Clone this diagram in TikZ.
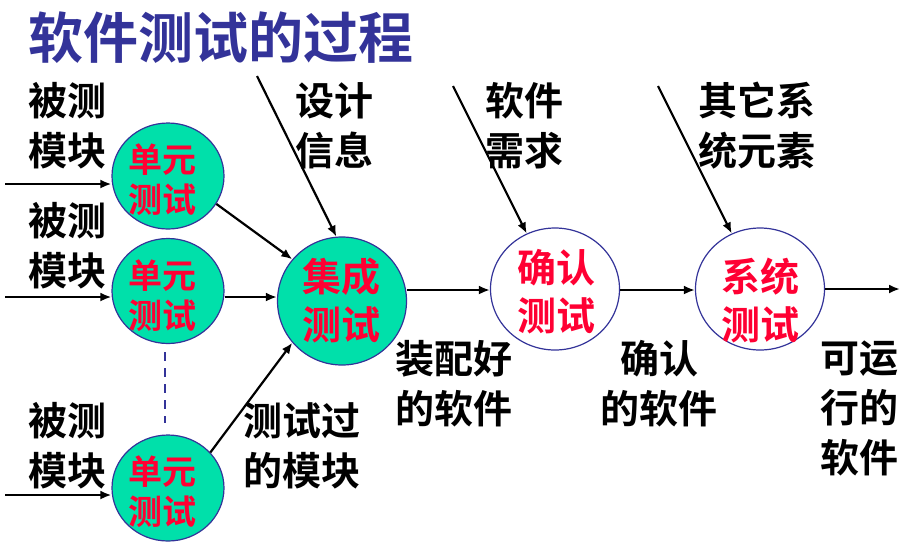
\documentclass[tikz,border=0pt]{standalone}
\usepackage{fontspec}
\setmainfont{Noto Sans CJK SC}[BoldFont={Noto Sans CJK SC Bold}]
\usetikzlibrary{arrows.meta,shapes.geometric}
\definecolor{titleblue}{HTML}{333399}
\definecolor{tealfill}{HTML}{00E0AA}
\definecolor{redtxt}{HTML}{FF0033}
\tikzset{
  oval/.style={ellipse, draw=titleblue, line width=1.2pt, inner sep=0pt},
  ctext/.style={text=redtxt, font=\bfseries\fontsize{34}{40}\selectfont, align=center, inner sep=0pt},
  btext/.style={text=redtxt, font=\bfseries\fontsize{39}{48}\selectfont, align=center, inner sep=0pt},
  lbl/.style={font=\bfseries\fontsize{39}{50}\selectfont, align=center, inner sep=0pt},
  arr/.style={line width=2.2pt, -{Latex[length=11pt,width=9pt]}},
}
\begin{document}
\begin{tikzpicture}[x=1pt,y=-1pt]
\useasboundingbox (0,0) rectangle (901,550);
% title
\node[text=titleblue, font=\bfseries\fontsize{55}{60}\selectfont, anchor=west, inner sep=0pt] (title) at (28,38) {软件测试的过程};
% circles
\node[oval, fill=tealfill, minimum width=112pt, minimum height=106pt] (u1) at (168,176) {};
\node[oval, fill=tealfill, minimum width=112pt, minimum height=105pt] (u2) at (168,291) {};
\node[oval, fill=tealfill, minimum width=112pt, minimum height=106pt] (u3) at (168,488) {};
\node[oval, fill=tealfill, minimum width=129pt, minimum height=128pt] (it) at (342,301) {};
\node[oval, fill=white, minimum width=129pt, minimum height=122pt] (ct) at (555,289) {};
\node[oval, fill=white, minimum width=129pt, minimum height=122pt] (st) at (760,289) {};
% circle texts
\node[ctext] (u1t) at (162,180) {单元\\测试};
\node[ctext] (u2t) at (162,296) {单元\\测试};
\node[ctext] (u3t) at (162,492) {单元\\测试};
\node[btext] (itt) at (341,300) {集成\\测试};
\node[btext] (ctt) at (556,292) {确认\\测试};
\node[btext] (stt) at (760,300) {系统\\测试};
% labels
\node[lbl] (l1) at (67,126) {被测\\模块};
\node[lbl] (l2) at (67,246) {被测\\模块};
\node[lbl] (l3) at (67,446) {被测\\模块};
\node[lbl] (ld) at (334,126) {设计\\信息};
\node[lbl] (lr) at (524,126) {软件\\需求};
\node[lbl] (lo) at (757,126) {其它系\\统元素};
\node[lbl] (lm) at (302,446) {测试过\\的模块};
\node[lbl] (la) at (454,384) {装配好\\的软件};
\node[lbl] (lc) at (659,384) {确认\\的软件};
\node[lbl] (lx) at (859,408) {可运\\行的\\软件};
% coordinates
\coordinate (s1) at (5,184);
\coordinate (s2) at (5,297);
\coordinate (s3) at (5,495);
\coordinate (sd) at (257,76);
\coordinate (sr) at (453,86);
\coordinate (so) at (658,86);
\coordinate (out) at (900,289);
\coordinate (d1) at (165,352);
\coordinate (d2) at (165,423);
% arrows
\draw[arr] (s1) -- (u1.west |- s1);
\draw[arr] (s2) -- (u2.west |- s2);
\draw[arr] (s3) -- (u3.west |- s3);
\draw[arr] (u1.-30) -- (it.140);
\draw[arr] (u2.east |- 0,297) -- (it.west |- 0,297);
\draw[arr] (u3.40) -- (it.220);
\draw[arr] (sd) -- (it.95);
\draw[arr] (it.east |- 0,290) -- (ct.west |- 0,290);
\draw[arr] (ct.east |- 0,290) -- (st.west |- 0,290);
\draw[arr] (st.east |- 0,289) -- (out);
\draw[arr] (sr) -- (ct.117);
\draw[arr] (so) -- (st.117);
\draw[titleblue, line width=2.2pt, dash pattern=on 9pt off 7pt] (d1) -- (d2);
\end{tikzpicture}
\end{document}
